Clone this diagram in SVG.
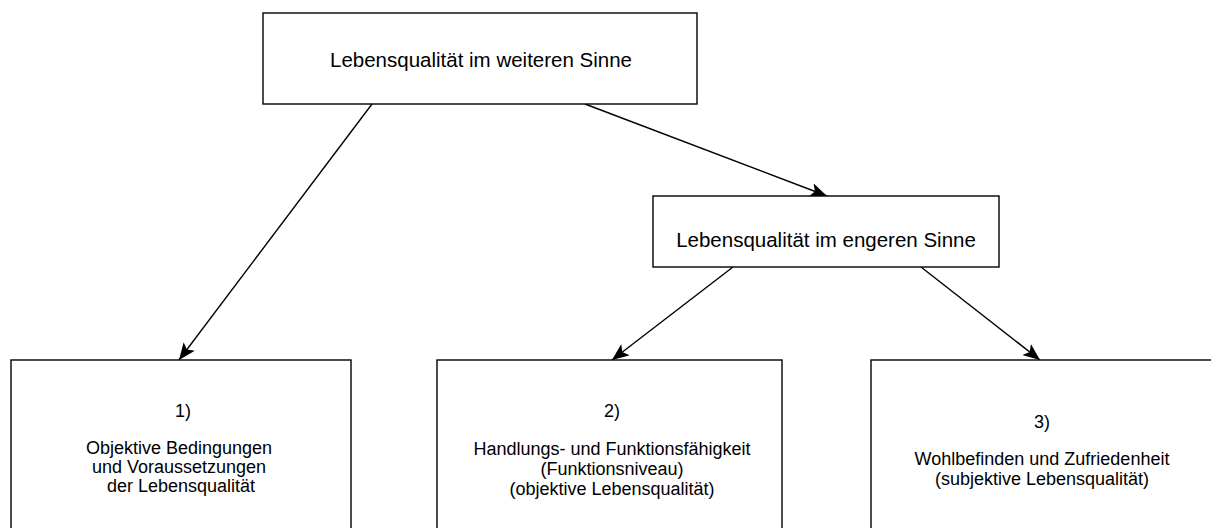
<svg xmlns="http://www.w3.org/2000/svg" width="1211" height="528" viewBox="0 0 1211 528">
<style>
.box{fill:#fff;stroke:#000;stroke-width:1.4}
.t{font-family:"Liberation Sans",Arial,sans-serif;fill:#000;text-anchor:middle}
.big{font-size:20.5px}
.sm{font-size:18px}
.con{stroke:#000;stroke-width:1.4;fill:none;marker-end:url(#ah)}
</style>
<defs>
<marker id="ah" markerWidth="18" markerHeight="14" refX="17" refY="7" orient="auto" markerUnits="userSpaceOnUse">
<path d="M0,0 L17,7 L0,14 L4,7 Z" fill="#000"/>
</marker>
</defs>
<rect width="1211" height="528" fill="#fff"/>
<g id="connectors">
<line class="con" x1="372" y1="104" x2="179" y2="360"/>
<line class="con" x1="585" y1="104" x2="827" y2="196"/>
<line class="con" x1="733" y1="267" x2="612" y2="360"/>
<line class="con" x1="921" y1="267" x2="1040" y2="360"/>
</g>
<g id="top">
<rect class="box" x="263" y="13" width="434" height="91"/>
<text class="t big" x="481" y="67">Lebensqualität im weiteren Sinne</text>
</g>
<g id="middle">
<rect class="box" x="653" y="196" width="346" height="71"/>
<text class="t big" x="826" y="247">Lebensqualität im engeren Sinne</text>
</g>
<g id="box1">
<rect class="box" x="11" y="360" width="340" height="200"/>
<text class="t sm" x="183" y="417">1)</text>
<text class="t sm" x="179" y="454">Objektive Bedingungen</text>
<text class="t sm" x="179" y="473">und Voraussetzungen</text>
<text class="t sm" x="181" y="492">der Lebensqualität</text>
</g>
<g id="box2">
<rect class="box" x="437" y="360" width="345" height="200"/>
<text class="t sm" x="612" y="417">2)</text>
<text class="t sm" x="612" y="455">Handlungs- und Funktionsfähigkeit</text>
<text class="t sm" x="612" y="475">(Funktionsniveau)</text>
<text class="t sm" x="612" y="495">(objektive Lebensqualität)</text>
</g>
<g id="box3">
<rect class="box" x="871" y="360" width="345" height="200"/>
<text class="t sm" x="1042" y="428">3)</text>
<text class="t sm" x="1042" y="465">Wohlbefinden und Zufriedenheit</text>
<text class="t sm" x="1042" y="485">(subjektive Lebensqualität)</text>
</g>
</svg>
